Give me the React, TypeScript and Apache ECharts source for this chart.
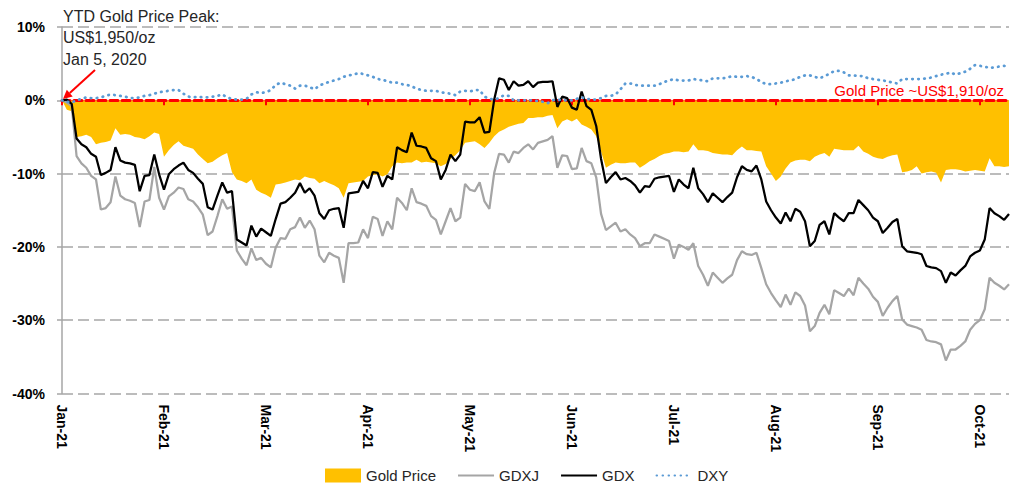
import React, { useEffect, useRef } from "react";
import * as echarts from "echarts";

// Trading days from early Jan-21 to mid Oct-21 (one label every 21 trading days)
const monthLabels = ["Jan-21", "Feb-21", "Mar-21", "Apr-21", "May-21", "Jun-21", "Jul-21", "Aug-21", "Sep-21", "Oct-21"];

// % change vs. Jan 5 peak
const goldPrice = [
  0, -1.3, -1.5, -5.0, -4.9, -4.7, -5.0, -6.0, -5.8, -5.7, -5.5, -3.8, -4.7, -4.6, -4.7, -5.0, -5.1, -5.3, -4.9, -4.4, -4.6,
  -7.7, -6.8, -6.1, -5.6, -6.2, -6.4, -6.6, -7.4, -8.0, -8.6, -8.4, -7.9, -7.5, -7.2, -9.8, -10.8, -11.0, -11.3, -10.8, -12.2, -12.6,
  -12.9, -13.3, -11.5, -11.4, -11.2, -11.0, -10.8, -10.9, -10.4, -10.6, -10.7, -11.3, -11.0, -11.3, -11.6, -12.0, -13.3, -11.3, -11.2, -11.1, -11.0,
  -10.4, -10.2, -10.1, -10.4, -10.1, -9.0, -8.5, -8.6, -8.5, -8.5, -8.1, -8.5, -8.4, -8.5, -8.6, -9.0, -8.7, -8.0, -7.5, -6.8, -5.8,
  -5.7, -5.6, -6.0, -6.5, -5.8, -4.9, -4.3, -4.0, -3.6, -3.4, -3.2, -3.1, -2.4, -2.4, -2.3, -2.3, -2.1, -2.0, -3.8, -2.9, -2.6,
  -2.9, -2.5, -3.3, -3.6, -4.0, -4.9, -7.0, -9.2, -8.8, -8.5, -8.6, -8.6, -8.5, -8.5, -9.2, -8.8, -8.3, -8.0, -7.6, -7.3, -7.2,
  -7.0, -7.0, -7.1, -7.0, -6.0, -6.8, -6.8, -6.9, -7.2, -7.3, -7.4, -7.4, -7.5, -6.8, -6.3, -6.8, -6.8, -6.9, -7.0, -9.0, -10.0,
  -11.0, -10.4, -9.3, -8.5, -8.2, -8.1, -8.1, -8.3, -7.7, -7.4, -7.2, -7.7, -6.6, -6.7, -6.8, -6.8, -6.8, -6.2, -7.0, -7.3, -7.7,
  -7.9, -8.0, -7.7, -7.5, -7.4, -9.8, -9.7, -9.5, -9.0, -10.0, -9.8, -9.7, -9.9, -11.2, -9.5, -9.4, -9.4, -9.5, -9.7, -9.6, -9.5,
  -9.6, -9.7, -7.9, -9.0, -9.0, -9.1, -9.0,
];

const gdxj = [
  0, -0.3, -0.8, -7.6, -8.6, -9.2, -10.3, -10.8, -14.9, -14.7, -13.9, -10.4, -13.0, -13.5, -13.7, -14.0, -17.3, -13.8, -13.6, -9.1, -13.3,
  -14.9, -13.1, -12.6, -11.9, -12.1, -13.5, -13.8, -14.6, -15.6, -18.4, -17.9, -15.8, -13.5, -14.8, -14.5, -20.5, -21.6, -22.5, -20.2, -21.8, -21.5,
  -22.3, -22.8, -20.1, -18.8, -18.9, -17.6, -17.3, -16.0, -17.4, -16.4, -17.6, -21.2, -22.1, -20.8, -21.2, -21.5, -24.9, -19.5, -19.5, -19.4, -17.6,
  -18.8, -15.9, -16.2, -18.5, -16.5, -17.6, -13.3, -14.0, -15.0, -12.0, -13.9, -14.1, -14.4, -15.8, -16.3, -18.3, -16.5, -14.7, -16.5, -16.0, -11.4,
  -12.2, -12.4, -11.2, -13.8, -14.8, -9.9, -7.3, -7.4, -8.5, -7.0, -7.2, -6.5, -6.0, -6.7, -5.8, -5.6, -5.4, -4.9, -9.2, -7.5, -7.6,
  -9.4, -9.3, -6.5, -8.3, -8.6, -10.5, -15.5, -17.7, -17.2, -16.7, -17.9, -17.6, -18.3, -18.8, -19.9, -19.5, -19.5, -18.3, -18.6, -18.9, -19.2,
  -21.6, -19.7, -20.0, -20.4, -19.5, -22.6, -23.8, -25.3, -23.5, -24.2, -24.9, -24.3, -23.8, -21.8, -20.6, -21.0, -21.1, -20.8, -22.9, -25.1, -26.3,
  -27.3, -28.2, -26.5, -27.9, -26.2, -26.7, -28.0, -31.5, -30.8, -29.0, -27.9, -29.2, -25.9, -26.3, -26.7, -25.7, -26.6, -24.2, -25.0, -25.7, -26.8,
  -27.5, -29.4, -28.3, -27.4, -26.7, -29.9, -30.6, -30.8, -31.0, -31.3, -32.7, -32.9, -33.0, -33.3, -35.5, -34.0, -34.0, -33.5, -32.9, -31.3, -30.5,
  -30.0, -28.5, -24.2, -24.9, -25.3, -25.8, -25.1,
];

const gdx = [
  0, 0.1, -0.5, -5.2, -6.0, -6.4, -7.3, -7.7, -10.2, -9.9, -9.5, -6.4, -8.2, -8.5, -8.6, -8.8, -12.4, -10.3, -10.2, -7.4, -10.1,
  -12.2, -10.1, -9.4, -8.9, -8.5, -9.5, -9.9, -10.7, -11.4, -14.6, -14.9, -13.0, -11.2, -12.6, -12.4, -19.0, -19.4, -19.8, -17.1, -18.6, -17.5,
  -18.0, -18.5, -16.2, -14.1, -13.9, -13.3, -12.6, -11.3, -12.6, -12.0, -13.0, -15.4, -16.2, -15.0, -14.8, -14.7, -17.4, -12.7, -12.6, -12.5, -11.0,
  -12.0, -9.8, -9.9, -11.8, -10.3, -10.8, -6.4, -6.8, -7.1, -4.4, -6.2, -6.3, -6.5, -7.9, -8.3, -10.8, -9.5, -7.4, -8.3, -7.4, -2.9,
  -3.0, -3.0, -2.3, -4.4, -4.3, 0.1, 3.0, 2.8, 1.4, 2.6, 2.0, 2.1, 2.6, 1.8, 2.4, 2.5, 2.5, 2.6, -0.9, 0.5, 0.3,
  -1.0, -1.3, 1.2, -0.8, -1.3, -3.5, -8.0, -11.3, -10.5, -9.8, -10.8, -10.6, -11.0, -11.6, -12.6, -11.7, -11.8, -10.7, -10.5, -10.4, -10.3,
  -12.5, -10.8, -11.5, -12.0, -9.2, -12.0, -12.8, -13.9, -12.7, -13.3, -13.9, -13.2, -12.6, -10.5, -9.0, -9.5, -9.7, -8.9, -10.8, -13.8, -15.0,
  -16.0, -16.8, -15.3, -16.5, -14.8, -15.2, -16.5, -19.9, -19.2, -17.0, -16.5, -18.3, -15.4, -16.0, -16.5, -15.4, -15.4, -13.6, -14.3, -15.0, -16.0,
  -16.5, -18.1, -17.4, -16.6, -16.2, -19.9, -20.6, -20.7, -20.8, -21.0, -22.6, -22.8, -22.9, -23.3, -24.9, -23.5, -23.9, -23.2, -22.6, -21.3, -20.8,
  -20.5, -19.0, -14.7, -15.4, -15.8, -16.3, -15.5,
];

const dxy = [
  0, -0.2, -0.3, 0.0, 0.2, 0.4, 0.3, 0.3, 0.4, 0.6, 0.8, 0.7, 0.6, 0.5, 0.3, 0.3, 0.4, 0.6, 0.7, 0.9, 1.1,
  1.2, 1.3, 1.4, 1.4, 0.9, 0.5, 0.4, 0.5, 0.4, 0.4, 0.5, 0.6, 0.8, 0.4, 0.2, 0.1, 0.1, 0.2, 0.8, 1.1, 1.0,
  1.1, 1.4, 2.1, 2.4, 2.2, 2.0, 1.6, 2.0, 2.0, 1.8, 1.5, 2.0, 2.3, 2.5, 2.7, 2.9, 3.2, 3.4, 3.5, 3.7, 3.6,
  3.4, 3.2, 2.9, 2.8, 2.6, 2.4, 2.4, 2.2, 2.1, 1.9, 1.6, 1.4, 1.3, 1.3, 1.3, 1.1, 1.0, 0.9, 0.7, 1.2, 1.3,
  1.2, 1.4, 1.4, 0.5, 0.2, 0.1, 0.3, 0.7, 0.6, 0.0, 0.0, 0.0, 0.0, 0.0, -0.1, -0.2, -0.4, 0.0, 0.1, 0.0, 0.0,
  0.0, 0.2, 0.4, 0.2, 0.1, 0.1, 0.3, 0.6, 0.6, 0.8, 1.5, 2.3, 2.3, 2.1, 2.0, 2.0, 2.0, 2.0, 2.2, 2.5, 2.7,
  2.9, 2.7, 2.7, 2.7, 2.9, 2.8, 2.7, 2.6, 3.0, 3.0, 3.0, 3.1, 3.3, 3.2, 3.2, 3.3, 3.2, 2.9, 2.5, 2.2, 2.2,
  2.3, 2.4, 2.6, 2.7, 2.9, 3.2, 3.4, 3.4, 3.2, 3.0, 3.3, 3.6, 4.0, 4.0, 3.8, 3.4, 3.4, 3.3, 3.3, 3.0, 2.9,
  2.8, 2.7, 2.6, 2.4, 2.3, 2.9, 2.9, 2.9, 2.9, 2.9, 3.0, 3.1, 3.3, 3.5, 3.6, 3.8, 3.5, 3.7, 3.9, 4.3, 4.8,
  4.7, 4.6, 4.4, 4.5, 4.6, 4.7, 4.5,
];

const categories = goldPrice.map((_, i) => `Day ${i + 1}`);
const LABEL_STEP = 21;

const annotationLines = ["YTD Gold Price Peak:", "US$1,950/oz", "Jan 5, 2020"];
const refLineLabel = "Gold Price ~US$1,910/oz";

const FONT = "'Liberation Sans', Arial, sans-serif";

export default function App() {
  const ref = useRef<HTMLDivElement>(null);

  useEffect(() => {
    document.body.style.margin = "0";
    if (!ref.current) return;
    const chart = echarts.init(ref.current, null, { renderer: "svg" });

    const hiddenSymbol = { opacity: 0 };

    const option: any = {
      animation: false,
      textStyle: { fontFamily: FONT },
      grid: { left: 62, right: 6, top: 27, bottom: 91.5, containLabel: false },
      legend: {
        left: 320,
        top: 463,
        itemWidth: 36,
        itemHeight: 14,
        itemGap: 21,
        textStyle: { fontSize: 15, color: "#262626", fontFamily: FONT },
        data: [
          { name: "Gold Price", icon: "rect" },
          { name: "GDXJ", itemStyle: hiddenSymbol },
          { name: "GDX", itemStyle: hiddenSymbol },
          { name: "DXY", itemStyle: hiddenSymbol },
        ],
      },
      xAxis: [
        {
          type: "category",
          data: categories,
          boundaryGap: false,
          position: "bottom",
          axisLine: { show: false, onZero: false },
          axisTick: { show: false },
          splitLine: { show: false },
          axisLabel: {
            interval: LABEL_STEP - 1,
            rotate: -90,
            margin: 11,
            fontSize: 14,
            fontWeight: "bold",
            color: "#000",
            fontFamily: FONT,
            formatter: (_v: string, idx: number) => monthLabels[Math.round(idx / LABEL_STEP)] ?? "",
          },
        },
        {
          type: "category",
          data: categories,
          boundaryGap: false,
          position: "bottom",
          z: 3,
          axisLine: {
            show: true,
            onZero: true,
            lineStyle: { color: "#ff0000", width: 3, type: [8, 4] },
          },
          axisTick: { show: true, interval: LABEL_STEP - 1, length: 5, lineStyle: { color: "#ff0000", width: 2 } },
          axisLabel: { show: false },
          splitLine: { show: false },
        },
      ],
      yAxis: {
        type: "value",
        min: -40,
        max: 10,
        interval: 10,
        axisLine: { show: true, lineStyle: { color: "#a6a6a6", width: 1.5 } },
        axisTick: { show: true, length: 5, lineStyle: { color: "#a6a6a6", width: 1.5 } },
        axisLabel: {
          formatter: "{value}%",
          fontSize: 14,
          fontWeight: "bold",
          color: "#000",
          margin: 17,
          fontFamily: FONT,
        },
        splitLine: { show: true, lineStyle: { color: "#a6a6a6", width: 1.5, type: [11, 5] } },
      },
      series: [
        {
          name: "Gold Price",
          type: "line",
          data: goldPrice,
          symbol: "none",
          z: 2,
          itemStyle: { color: "#ffc000" },
          lineStyle: { width: 0, color: "#ffc000" },
          areaStyle: { color: "#ffc000", opacity: 1 },
        },
        {
          name: "GDXJ",
          type: "line",
          data: gdxj,
          symbol: "none",
          z: 4,
          itemStyle: { color: "#a5a5a5" },
          lineStyle: { width: 2.25, color: "#a5a5a5" },
        },
        {
          name: "GDX",
          type: "line",
          data: gdx,
          symbol: "none",
          z: 5,
          itemStyle: { color: "#000000" },
          lineStyle: { width: 2.25, color: "#000000" },
        },
        {
          name: "DXY",
          type: "line",
          data: dxy,
          symbol: "none",
          z: 6,
          itemStyle: { color: "#5b9bd5" },
          lineStyle: { width: 2.75, color: "#5b9bd5", type: [0.5, 5.5], cap: "round" },
        },
      ],
      graphic: [
        ...annotationLines.map((t, k) => ({
          type: "text",
          left: 63,
          top: 8 + k * 21.5,
          z: 20,
          style: { text: t, fill: "#262626", fontSize: 16, fontFamily: FONT },
        })),
        {
          type: "text",
          right: 11,
          top: 83,
          z: 20,
          style: { text: refLineLabel, fill: "#ff0000", fontSize: 15, fontFamily: FONT },
        },
        {
          type: "line",
          z: 20,
          shape: { x1: 95, y1: 70, x2: 69.75, y2: 93.06 },
          style: { stroke: "#ff0000", lineWidth: 2 },
        },
        {
          type: "polygon",
          z: 20,
          shape: { points: [[63, 99], [72.7, 96.4], [66.8, 89.7]] },
          style: { fill: "#ff0000" },
        },
      ],
    };

    chart.setOption(option);
    return () => chart.dispose();
  }, []);

  return <div ref={ref} style={{ width: 1015, height: 485 }} />;
}
